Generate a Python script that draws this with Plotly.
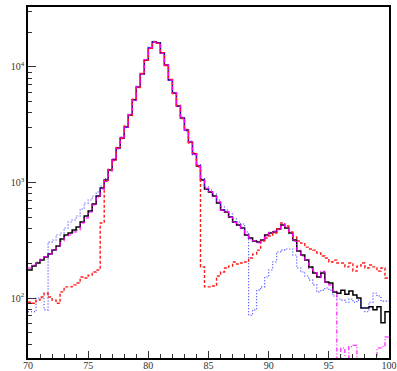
import numpy as np
import plotly.graph_objects as go

# 90 bins from 70 to 100
x_min, x_max, n_bins = 70.0, 100.0, 90

black = [175,189,201,213,227,240,260,282,324,351,
         366,388,412,455,513,567,652,764,897,1050,
         1280,1570,1990,2430,3030,3840,5190,6720,8710,11500,
         14600,16500,16200,13200,10400,7730,5960,4600,3620,2850,
         2240,1770,1390,1050,879,828,764,665,578,556,
         503,455,429,404,351,331,312,305,318,351,
         366,373,396,429,404,366,318,255,236,213,
         186,165,152,165,138,135,113,110,117,108,
         115,106,100,82,82,84,79,84,61,76]

blue = [76,76,100,100,79,305,318,351,366,404,
        455,474,513,590,665,706,764,828,933,1080,
        1300,1600,1950,2480,3000,3900,5100,6800,8600,11600,
        14800,16400,16300,13100,10500,7650,6050,4550,3680,2800,
        2280,1740,1420,1080,915,862,796,706,614,578,
        534,483,455,437,373,71,79,117,125,152,
        175,205,250,260,266,266,236,182,168,155,
        143,130,113,117,122,117,104,98,96,92,
        98,92,96,82,76,92,110,104,94,94]

red = [92,90,96,102,110,102,96,90,113,125,
       125,130,135,152,149,158,168,175,446,1040,
       1300,1550,2010,2400,3080,3800,5250,6650,8800,11400,
       14500,16600,16000,13300,10300,7800,5900,4650,3580,2880,
       2200,1800,1370,186,125,125,127,155,168,182,
       189,205,197,201,205,222,240,260,312,331,
       344,366,396,446,420,373,338,312,299,276,
       266,260,245,231,222,205,213,201,201,186,
       201,171,189,201,182,193,186,171,182,149]

magenta = [182,193,205,218,227,240,260,282,312,344,
           351,373,388,446,493,556,639,749,879,1020,
           1260,1600,1960,2460,3000,3880,5150,6750,8650,11600,
           14700,16400,16250,13150,10450,7700,6000,4580,3650,2830,
           2260,1750,1400,1040,890,835,760,680,575,560,
           500,450,435,400,355,325,315,300,320,345,
           370,380,390,440,410,360,310,260,230,215,
           180,168,150,170,135,130,115,0,37,0,
           38,39,0,0,0,0,0,37,38,46]

x_ticks = [70, 75, 80, 85, 90, 95, 100]
y_ticks = [100, 1000, 10000]
y_ticktext = ["10<sup>2</sup>", "10<sup>3</sup>", "10<sup>4</sup>"]

edges = np.linspace(x_min, x_max, n_bins + 1)


def step(vals):
    v = np.array(vals, dtype=float)
    v[v <= 0] = 0.1  # empty bins drawn below the frame
    return edges, np.append(v, v[-1])


fig = go.Figure()
series = [
    (black, dict(color="black", width=1.5, dash="solid")),
    (blue, dict(color="#2a2aff", width=1.1, dash="1px,2px")),
    (red, dict(color="#ff1a1a", width=1.4, dash="3px,2px")),
    (magenta, dict(color="#ff00ff", width=1.1, dash="4px,2px,1px,2px")),
]
for vals, ln in series:
    xs, ys = step(vals)
    fig.add_trace(go.Scatter(x=xs, y=ys, mode="lines", line=dict(shape="hv", **ln),
                             showlegend=False, hoverinfo="skip"))

minor_y = [m * 10 ** e for e in (1, 2, 3) for m in range(2, 10)] + [20000, 30000]

font = dict(family="Liberation Serif", size=10, color="#333")
fig.update_layout(
    width=397, height=371,
    margin=dict(l=28, r=8, t=7, b=13, autoexpand=False),
    paper_bgcolor="white", plot_bgcolor="white",
    font=font,
    xaxis=dict(range=[x_min, x_max], showgrid=False, zeroline=False, automargin=False,
               showline=True, linecolor="black", linewidth=1.5, mirror=True,
               ticks="inside", ticklen=7, tickwidth=1, tickcolor="#333",
               tickvals=x_ticks, ticktext=[str(t) for t in x_ticks],
               tickfont=font, ticklabelstandoff=-3,
               minor=dict(ticks="inside", ticklen=4, tickwidth=1, tickcolor="#333", dtick=1)),
    yaxis=dict(type="log", range=[1.481, 4.519], showgrid=False, zeroline=False, automargin=False,
               showline=True, linecolor="black", linewidth=1.5, mirror=True,
               ticks="inside", ticklen=8, tickwidth=1, tickcolor="#333",
               tickvals=y_ticks, ticktext=y_ticktext, tickfont=font,
               minor=dict(ticks="inside", ticklen=4, tickwidth=1, tickcolor="#333",
                          tickvals=minor_y)),
)

fig.write_html("out.html")
